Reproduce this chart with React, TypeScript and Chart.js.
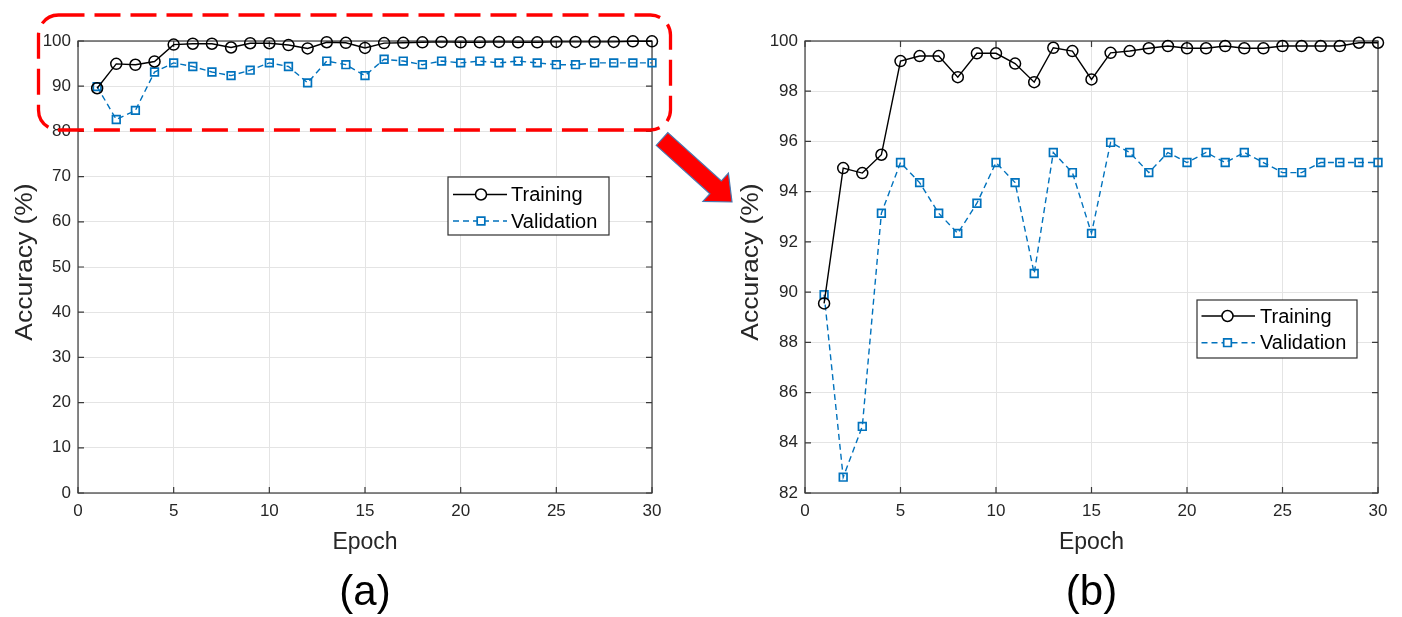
import React, { useEffect, useRef } from "react";
import { Chart, registerables } from "chart.js";

Chart.register(...registerables);

// ---------- data ----------
const epochs = [
  1, 2, 3, 4, 5, 6, 7, 8, 9, 10, 11, 12, 13, 14, 15,
  16, 17, 18, 19, 20, 21, 22, 23, 24, 25, 26, 27, 28, 29, 30,
];
const trainingAcc = [
  89.55, 94.94, 94.74, 95.47, 99.2, 99.4, 99.4, 98.56, 99.51, 99.51,
  99.1, 98.36, 99.73, 99.6, 98.47, 99.53, 99.6, 99.71, 99.8, 99.71,
  99.71, 99.8, 99.71, 99.71, 99.8, 99.8, 99.8, 99.8, 99.93, 99.93,
];
const validationAcc = [
  89.9, 82.63, 84.65, 93.14, 95.16, 94.36, 93.14, 92.34, 93.54, 95.16,
  94.36, 90.74, 95.56, 94.76, 92.34, 95.96, 95.56, 94.76, 95.56, 95.16,
  95.56, 95.16, 95.56, 95.16, 94.76, 94.76, 95.16, 95.16, 95.16, 95.16,
];
const seriesLabels = ["Training", "Validation"];
const xAxisTitle = "Epoch";
const yAxisTitle = "Accuracy (%)";
const panelCaptions = ["(a)", "(b)"];
const xRange = [0, 30, 5];
const yRangeFull = [0, 100, 10];
const yRangeZoom = [82, 100, 2];

// ---------- style ----------
const FONT = "'Liberation Sans', Arial, Helvetica, sans-serif";
const TEXT = "#262626";
const GRID = "#e4e4e4";
const BLUE = "#0072BD";

const framePlugin = {
  id: "matlabFrame",
  beforeDatasetsDraw(chart: any) {
    const { ctx, chartArea: a, scales } = chart;
    ctx.save();
    ctx.strokeStyle = "#3a3a3a";
    ctx.lineWidth = 1.2;
    ctx.strokeRect(a.left, a.top, a.right - a.left, a.bottom - a.top);
    const L = 6;
    ctx.beginPath();
    scales.y.ticks.forEach((t: any) => {
      const y = scales.y.getPixelForValue(t.value);
      ctx.moveTo(a.left, y);
      ctx.lineTo(a.left + L, y);
      ctx.moveTo(a.right, y);
      ctx.lineTo(a.right - L, y);
    });
    scales.x.ticks.forEach((t: any) => {
      const x = scales.x.getPixelForValue(t.value);
      ctx.moveTo(x, a.bottom);
      ctx.lineTo(x, a.bottom - L);
      ctx.moveTo(x, a.top);
      ctx.lineTo(x, a.top + L);
    });
    ctx.stroke();
    ctx.restore();
  },
  afterDraw(chart: any, _args: any, opts: any) {
    const { ctx, chartArea: a } = chart;
    // y-axis title (slightly stretched along its length, as in the reference)
    const yt = opts && opts.yTitle;
    if (yt) {
      ctx.save();
      ctx.translate(yt.x, (a.top + a.bottom) / 2 + yt.dy);
      ctx.rotate(-Math.PI / 2);
      ctx.scale(yt.stretch, 1);
      ctx.fillStyle = TEXT;
      ctx.font = `${yt.size}px ${FONT}`;
      ctx.textAlign = "center";
      ctx.textBaseline = "middle";
      ctx.fillText(yt.text, 0, 0);
      ctx.restore();
    }
    const lg = opts && opts.legend;
    if (!lg) return;
    ctx.save();
    ctx.fillStyle = "#fff";
    ctx.fillRect(lg.left, lg.top, lg.width, lg.height);
    ctx.strokeStyle = "#303030";
    ctx.lineWidth = 1.2;
    ctx.strokeRect(lg.left, lg.top, lg.width, lg.height);
    chart.data.datasets.forEach((ds: any, i: number) => {
      const y = lg.top + lg.rows[i];
      ctx.strokeStyle = ds.borderColor;
      ctx.lineWidth = ds.borderWidth;
      ctx.setLineDash(ds.borderDash || []);
      ctx.beginPath();
      ctx.moveTo(lg.left + lg.lineStart, y);
      ctx.lineTo(lg.left + lg.lineEnd, y);
      ctx.stroke();
      ctx.setLineDash([]);
      const mx = lg.left + lg.marker;
      ctx.lineWidth = ds.pointBorderWidth;
      ctx.strokeStyle = ds.pointBorderColor;
      ctx.fillStyle = "#fff";
      ctx.beginPath();
      if (ds.pointStyle === "circle") {
        ctx.arc(mx, y, ds.pointRadius, 0, Math.PI * 2);
      } else {
        const s = ds.pointRadius * Math.SQRT1_2;
        ctx.rect(mx - s, y - s, 2 * s, 2 * s);
      }
      ctx.fill();
      ctx.stroke();
      ctx.fillStyle = "#000";
      ctx.font = `20px ${FONT}`;
      ctx.textBaseline = "middle";
      ctx.textAlign = "left";
      ctx.fillText(ds.label, lg.left + lg.textStart, y + 1);
    });
    ctx.restore();
  },
};

function makeConfig(
  yr: number[],
  yAxisWidth: number,
  yTitleX: number,
  padRight: number,
  legend: any
): any {
  const tr = epochs.map((e, i) => ({ x: e, y: trainingAcc[i] }));
  const va = epochs.map((e, i) => ({ x: e, y: validationAcc[i] }));
  return {
    type: "line",
    data: {
      datasets: [
        {
          label: seriesLabels[0],
          data: tr,
          borderColor: "#000",
          borderWidth: 1.4,
          pointStyle: "circle",
          pointRadius: 5.5,
          pointBorderWidth: 1.5,
          pointBorderColor: "#000",
          pointBackgroundColor: "rgba(0,0,0,0)",
          fill: false,
          tension: 0,
          clip: false,
        },
        {
          label: seriesLabels[1],
          data: va,
          borderColor: BLUE,
          borderWidth: 1.4,
          borderDash: [6, 4],
          pointStyle: "rect",
          pointRadius: 5.4,
          pointBorderWidth: 1.7,
          pointBorderColor: BLUE,
          pointBackgroundColor: "rgba(0,0,0,0)",
          fill: false,
          tension: 0,
          clip: false,
        },
      ],
    },
    options: {
      responsive: false,
      animation: false,
      events: [],
      layout: { padding: { left: 0, top: 41, right: padRight, bottom: 0 } },
      plugins: {
        legend: { display: false },
        tooltip: { enabled: false },
        matlabFrame: {
          legend,
          yTitle: { text: yAxisTitle, x: yTitleX, dy: -5, size: 23, stretch: 1.15 },
        },
      },
      scales: {
        x: {
          type: "linear",
          min: xRange[0],
          max: xRange[1],
          ticks: {
            stepSize: xRange[2],
            padding: 8,
            color: TEXT,
            font: { size: 17, family: FONT },
            maxRotation: 0,
          },
          grid: { color: GRID, drawTicks: false, lineWidth: 1 },
          border: { display: false },
          title: {
            display: true,
            text: xAxisTitle,
            color: TEXT,
            font: { size: 23, family: FONT },
            padding: { top: 0, bottom: 61 },
          },
          afterFit(s: any) {
            s.height = 124;
          },
        },
        y: {
          type: "linear",
          min: yr[0],
          max: yr[1],
          ticks: {
            stepSize: yr[2],
            padding: 7,
            color: TEXT,
            font: { size: 17, family: FONT },
          },
          grid: { color: GRID, drawTicks: false, lineWidth: 1 },
          border: { display: false },
          title: { display: false, text: yAxisTitle },
          afterFit(s: any) {
            s.width = yAxisWidth;
          },
        },
      },
    },
    plugins: [framePlugin],
  };
}

function arrowPoints(): string {
  const T = [662, 139];
  const P = [732, 202];
  const dx = P[0] - T[0];
  const dy = P[1] - T[1];
  const len = Math.hypot(dx, dy);
  const u = [dx / len, dy / len];
  const n = [-u[1], u[0]];
  const shaftHalf = 8.6;
  const headHalf = 19;
  const headLen = 22;
  const B = [P[0] - headLen * u[0], P[1] - headLen * u[1]];
  const pts = [
    [T[0] + shaftHalf * n[0], T[1] + shaftHalf * n[1]],
    [B[0] + shaftHalf * n[0], B[1] + shaftHalf * n[1]],
    [B[0] + headHalf * n[0], B[1] + headHalf * n[1]],
    P,
    [B[0] - headHalf * n[0], B[1] - headHalf * n[1]],
    [B[0] - shaftHalf * n[0], B[1] - shaftHalf * n[1]],
    [T[0] - shaftHalf * n[0], T[1] - shaftHalf * n[1]],
  ];
  return pts.map((p) => `${p[0].toFixed(1)},${p[1].toFixed(1)}`).join(" ");
}

export default function App() {
  const refA = useRef<HTMLCanvasElement | null>(null);
  const refB = useRef<HTMLCanvasElement | null>(null);

  useEffect(() => {
    const a = new Chart(
      refA.current as HTMLCanvasElement,
      makeConfig(yRangeFull, 78, 26, 48, {
        left: 448,
        top: 177,
        width: 161,
        height: 58,
        rows: [17.5, 44],
        lineStart: 5,
        lineEnd: 59,
        marker: 33,
        textStart: 63,
      })
    );
    const b = new Chart(
      refB.current as HTMLCanvasElement,
      makeConfig(yRangeZoom, 105, 52, 24, {
        left: 497,
        top: 300,
        width: 160,
        height: 58,
        rows: [16, 42.7],
        lineStart: 4.5,
        lineEnd: 58,
        marker: 30.5,
        textStart: 63,
      })
    );
    return () => {
      a.destroy();
      b.destroy();
    };
  }, []);

  const caption = (text: string, cx: number) => (
    <div
      style={{
        position: "absolute",
        left: cx - 60,
        width: 120,
        top: 567,
        height: 48,
        lineHeight: "48px",
        textAlign: "center",
        fontFamily: FONT,
        fontSize: 42,
        color: "#000",
      }}
    >
      {text}
    </div>
  );

  return (
    <div
      style={{
        position: "fixed",
        left: 0,
        top: 0,
        width: 1402,
        height: 617,
        background: "#fff",
        overflow: "hidden",
      }}
    >
      <canvas
        ref={refA}
        width={700}
        height={617}
        style={{ position: "absolute", left: 0, top: 0, width: 700, height: 617 }}
      />
      <canvas
        ref={refB}
        width={702}
        height={617}
        style={{ position: "absolute", left: 700, top: 0, width: 702, height: 617 }}
      />
      {caption(panelCaptions[0], 365)}
      {caption(panelCaptions[1], 1091.5)}
      <svg
        width={1402}
        height={617}
        style={{ position: "absolute", left: 0, top: 0, pointerEvents: "none" }}
      >
        <rect
          x={38.5}
          y={15}
          width={632}
          height={115}
          rx={20}
          ry={20}
          fill="none"
          stroke="#ff0000"
          strokeWidth={3.3}
          strokeDasharray="26 10"
        />
        <polygon
          points={arrowPoints()}
          fill="#ff0000"
          stroke="#4a78b0"
          strokeWidth={1.2}
          strokeLinejoin="miter"
        />
      </svg>
    </div>
  );
}
